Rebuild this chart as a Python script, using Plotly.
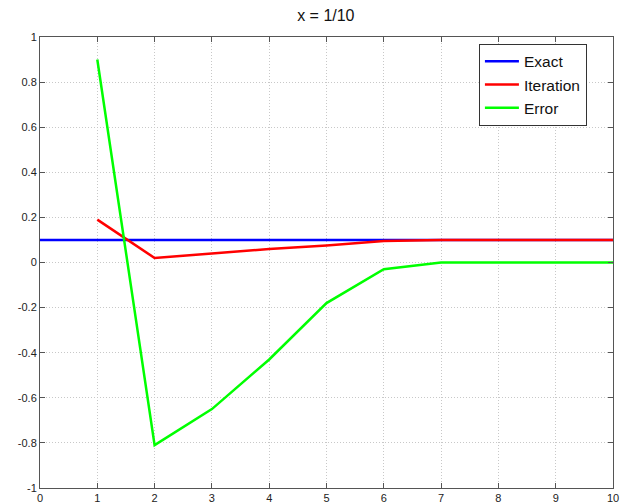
import plotly.graph_objects as go

x_exact = [0, 1, 2, 3, 4, 5, 6, 7, 8, 9, 10]
exact = [0.1] * 11
x_iter = [1, 2, 3, 4, 5, 6, 7, 8, 9, 10]
iteration = [0.19, 0.02, 0.04, 0.06, 0.075, 0.095, 0.1, 0.1, 0.1, 0.1]
error = [0.9, -0.81, -0.65, -0.43, -0.18, -0.03, 0.0, 0.0, 0.0, 0.0]

fig = go.Figure()
fig.add_trace(go.Scatter(x=x_exact, y=exact, mode="lines", name="Exact",
                         line=dict(color="#0000FF", width=2.5)))
fig.add_trace(go.Scatter(x=x_iter, y=iteration, mode="lines", name="Iteration",
                         line=dict(color="#FF0000", width=2.5)))
fig.add_trace(go.Scatter(x=x_iter, y=error, mode="lines", name="Error",
                         line=dict(color="#00FF00", width=2.5)))

axis_common = dict(
    showline=True, linecolor="#555555", linewidth=1, mirror="ticks",
    ticks="inside", ticklen=5, tickcolor="#555555", automargin=False,
    showgrid=True, gridcolor="#C8C8C8", griddash="1px,2px", gridwidth=1,
    zeroline=False, tickfont=dict(family="Liberation Sans, Arial", size=11, color="#222222"),
)

fig.update_layout(
    width=623, height=504,
    margin=dict(l=40, r=10, t=37, b=16),
    paper_bgcolor="white", plot_bgcolor="white",
    title=dict(text="x = 1/10", x=0.523, xanchor="center", y=0.97, yanchor="middle",
               font=dict(family="Liberation Sans, Arial", size=16, color="#111111")),
    xaxis=dict(range=[0, 10], dtick=1, **axis_common),
    yaxis=dict(range=[-1, 1], tickvals=[-1, -0.8, -0.6, -0.4, -0.2, 0, 0.2, 0.4, 0.6, 0.8, 1],
               ticktext=["-1", "-0.8", "-0.6", "-0.4", "-0.2", "0", "0.2", "0.4", "0.6", "0.8", "1"],
               **axis_common),
    legend=dict(x=0.766, y=0.985, xanchor="left", yanchor="top",
                bordercolor="#333333", borderwidth=1, bgcolor="white",
                font=dict(family="Liberation Sans, Arial", size=15.5, color="#111111"),
                tracegroupgap=0, itemwidth=34, entrywidth=106, entrywidthmode="pixels"),
    showlegend=True,
)

fig.write_html("out.html")
